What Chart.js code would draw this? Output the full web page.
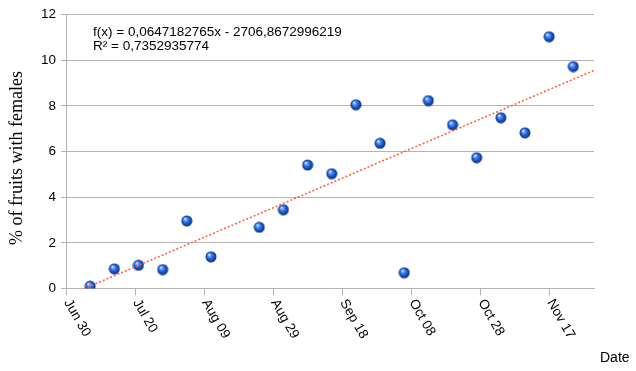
<!DOCTYPE html>
<html>
<head>
<meta charset="utf-8">
<script src="https://cdn.jsdelivr.net/npm/chart.js@4/dist/chart.umd.min.js"></script>
<style>
  html, body { margin: 0; padding: 0; background: #fff; }
  #wrap { width: 636px; height: 371px; }
</style>
</head>
<body>
<div id="wrap"><canvas id="c" width="636" height="371"></canvas></div>
<script>
// Weekly collection dates and share of fruits carrying females (%)
const sampleDates = [
  '2014-07-07', '2014-07-14', '2014-07-21', '2014-07-28', '2014-08-04',
  '2014-08-11', '2014-08-25', '2014-09-01', '2014-09-08', '2014-09-15',
  '2014-09-22', '2014-09-29', '2014-10-06', '2014-10-13', '2014-10-20',
  '2014-10-27', '2014-11-03', '2014-11-10', '2014-11-17', '2014-11-24'
];
const femalePercent = [
  0.10, 0.86, 1.02, 0.83, 2.96,
  1.39, 2.68, 3.45, 5.41, 5.03,
  8.05, 6.36, 0.69, 8.23, 7.17,
  5.73, 7.48, 6.82, 11.03, 9.72
];

// Date axis ticks (every 20 days)
const tickDates = ['2014-06-30', '2014-07-20', '2014-08-09', '2014-08-29',
                   '2014-09-18', '2014-10-08', '2014-10-28', '2014-11-17'];
const tickLabels = ['Jun 30', 'Jul 20', 'Aug 09', 'Aug 29',
                    'Sep 18', 'Oct 08', 'Oct 28', 'Nov 17'];
const axisStart = '2014-06-30';
const axisEnd = '2014-11-30';

// Percent axis ticks
const yTicks = [0, 2, 4, 6, 8, 10, 12];

// Linear trend fitted on spreadsheet date serials
const trendSlope = 0.0647182765;
const trendIntercept = -2706.8672996219;
const trendR2 = 0.7352935774;

// Spreadsheet-style day serial (day 0 = 1899-12-30)
function serial(iso) {
  const [y, m, d] = iso.split('-').map(Number);
  return (Date.UTC(y, m - 1, d) - Date.UTC(1899, 11, 30)) / 86400000;
}
const trend = x => trendSlope * x + trendIntercept;
const decimalComma = v => String(v).replace('.', ',');

// Shaded blue ball used as the point marker
function sphere(r) {
  const s = Math.ceil(r * 2) + 1;
  const c = document.createElement('canvas');
  c.width = c.height = s;
  const g = c.getContext('2d');
  const cx = s / 2, cy = s / 2;
  const grad = g.createRadialGradient(cx - r * 0.35, cy - r * 0.4, r * 0.05, cx, cy, r);
  grad.addColorStop(0, '#eef4ff');
  grad.addColorStop(0.22, '#6aa4f7');
  grad.addColorStop(0.55, '#2163d8');
  grad.addColorStop(1, '#0b2b82');
  g.fillStyle = grad;
  g.beginPath();
  g.arc(cx, cy, r, 0, Math.PI * 2);
  g.fill();
  return c;
}
const ball = sphere(5.5);

const xMin = serial(axisStart);
const xMax = serial(axisEnd);

const points = sampleDates.map((d, i) => ({ x: serial(d), y: femalePercent[i] }));
const trendPoints = [xMin, xMax].map(x => ({ x, y: trend(x) }));

const FONT = '"Liberation Sans", Arial, sans-serif';
const SERIF = '"Liberation Serif", "Times New Roman", serif';

const overlay = {
  id: 'overlay',
  beforeDraw(chart) {
    const ctx = chart.ctx;
    ctx.save();
    ctx.fillStyle = '#fff';
    ctx.fillRect(0, 0, chart.width, chart.height);
    ctx.restore();
  },
  afterDraw(chart) {
    const ctx = chart.ctx;
    const xs = chart.scales.x;
    const area = chart.chartArea;
    ctx.save();
    ctx.fillStyle = '#000';
    ctx.font = '13.5px ' + FONT;
    // slanted date labels
    tickDates.forEach((d, i) => {
      const px = xs.getPixelForValue(serial(d));
      ctx.save();
      ctx.translate(px + 1, area.bottom + 12);
      ctx.rotate(Math.PI / 3);
      ctx.textAlign = 'left';
      ctx.textBaseline = 'middle';
      ctx.fillText(tickLabels[i], 0, 0);
      ctx.restore();
    });
    // percent axis name
    ctx.save();
    ctx.translate(17, 158);
    ctx.rotate(-Math.PI / 2);
    ctx.font = '18px ' + SERIF;
    ctx.textAlign = 'center';
    ctx.textBaseline = 'middle';
    ctx.fillText('% of fruits with females', 0, 0);
    ctx.restore();
    // date axis name
    ctx.font = '14px ' + FONT;
    ctx.textAlign = 'left';
    ctx.textBaseline = 'alphabetic';
    ctx.fillText('Date', 600, 362);
    // regression equation
    ctx.font = '13.5px ' + FONT;
    ctx.fillText('f(x) = ' + decimalComma(trendSlope) + 'x - ' + decimalComma(-trendIntercept), 93, 36);
    ctx.fillText('R\u00B2 = ' + decimalComma(trendR2), 93, 50);
    ctx.restore();
  }
};

new Chart(document.getElementById('c'), {
  type: 'scatter',
  data: {
    datasets: [
      {
        label: 'Fruits with females',
        data: points,
        pointStyle: ball,
        pointRadius: 6,
        showLine: false,
        order: 1
      },
      {
        label: 'Linear trend',
        type: 'line',
        data: trendPoints,
        borderColor: '#ff5a30',
        borderWidth: 1.5,
        borderDash: [2, 2],
        pointRadius: 0,
        fill: false,
        clip: 0,
        order: 0
      }
    ]
  },
  options: {
    responsive: false,
    animation: false,
    events: [],
    layout: { padding: { top: 14.5, right: 42, left: 0, bottom: 0 } },
    plugins: { legend: { display: false }, tooltip: { enabled: false } },
    scales: {
      x: {
        type: 'linear',
        min: xMin,
        max: xMax,
        afterBuildTicks: s => { s.ticks = tickDates.map(d => ({ value: serial(d) })); },
        afterFit: s => { s.height = 82.5; },
        ticks: { display: false },
        grid: { drawOnChartArea: false, drawTicks: true, tickLength: 7, color: '#b3b3b3', lineWidth: 1 },
        border: { color: '#b3b3b3', width: 1 }
      },
      y: {
        min: 0,
        max: 12,
        afterBuildTicks: s => { s.ticks = yTicks.map(v => ({ value: v })); },
        afterFit: s => { s.width = 66; },
        ticks: { color: '#000', padding: 5, font: { family: FONT, size: 13.5 } },
        grid: { color: '#b3b3b3', lineWidth: 1, tickLength: 5 },
        border: { color: '#b3b3b3', width: 1 }
      }
    }
  },
  plugins: [overlay]
});
</script>
</body>
</html>
